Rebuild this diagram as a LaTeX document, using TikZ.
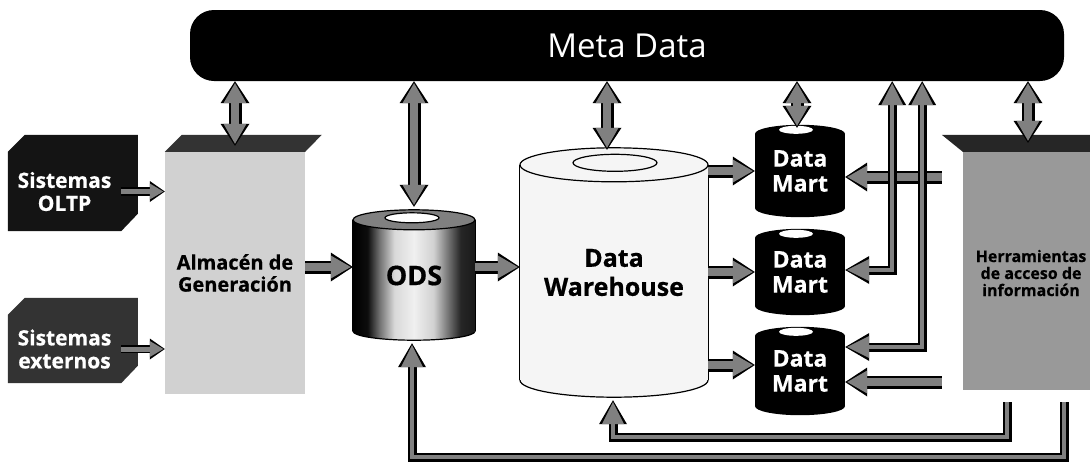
\documentclass[tikz,border=0pt]{standalone}
\usepackage{fontspec}
\setmainfont{Open Sans}[BoldFeatures={FakeBold=0.6}]
\usetikzlibrary{arrows.meta,calc,backgrounds}

% side-to-side shading of the ODS drum
\pgfdeclarehorizontalshading{odsbody}{100bp}{color(0bp)=(black); color(25bp)=(black); color(31bp)=(black!95); color(36bp)=(black!55); color(42bp)=(black!15); color(50bp)=(black!6); color(58bp)=(black!18); color(64bp)=(black!55); color(69bp)=(black!85); color(75bp)=(black!90); color(100bp)=(black!90)}

\tikzset{
  headKB/.tip={Triangle[length=22pt,width=29pt,line width=0pt 0 0]},
  headGB/.tip={Triangle[length=20pt,width=23pt,line width=0pt 0 0]},
  headKS/.tip={Triangle[length=15pt,width=21pt,line width=0pt 0 0]},
  headGS/.tip={Triangle[length=13.5pt,width=16pt,line width=0pt 0 0]},
  headKL/.tip={Triangle[length=24pt,width=28pt,line width=0pt 0 0]},
  headGL/.tip={Triangle[length=22pt,width=22pt,line width=0pt 0 0]},
  flowbig/.style={draw=black!50, line width=8.5pt, arrows={-headGB}, shorten >=2pt,
    preaction={draw=black, line width=13pt, arrows={-headKB}, shorten >=0pt}},
  flowdbl/.style={draw=black!50, line width=8.5pt, arrows={headGB-headGB}, shorten >=2pt, shorten <=2pt,
    preaction={draw=black, line width=13pt, arrows={headKB-headKB}, shorten >=0pt, shorten <=0pt}},
  flowsml/.style={draw=black!50, line width=5pt, arrows={-headGS}, shorten >=1.5pt,
    preaction={draw=black, line width=8.5pt, arrows={-headKS}, shorten >=0pt}},
  feedup/.style={draw=black!50, line width=4pt, arrows={-headGL}, shorten >=2pt,
    preaction={draw=black, line width=9pt, arrows={-headKL}, shorten >=0pt}},
  feeddbl/.style={draw=black!50, line width=4pt, arrows={headGL-headGL}, shorten >=2pt, shorten <=2pt,
    preaction={draw=black, line width=9pt, arrows={headKL-headKL}, shorten >=0pt, shorten <=0pt}},
  face/.style={inner sep=0pt, align=center},
  srcbox/.style={face, text=white, minimum width=113pt, font=\bfseries\fontsize{21}{23}\selectfont},
  drum/.style={face, font=\bfseries\fontsize{23}{25}\selectfont},
}

\begin{document}
\begin{tikzpicture}[x=1pt,y=-1pt]
\useasboundingbox (0,0) rectangle (1090,464);

% metadata bar
\node[fill=black, rounded corners=24pt, minimum width=874pt, minimum height=71pt, inner sep=0pt,
      text=white, font=\fontsize{33}{33}\selectfont] (meta) at (627,45.5) {Meta Data};

% source systems
\node[srcbox, fill=black!92, minimum height=79pt] (oltp) at (64.5,191.5) {Sistemas\\OLTP};
\node[srcbox, fill=black!80, minimum height=68pt] (ext) at (64.5,349) {Sistemas\\externos};

% staging and access-tool blocks
\node[face, fill=black!18, minimum width=140pt, minimum height=242pt,
      font=\bfseries\fontsize{20}{22}\selectfont] (alm) at (235,273) {Almacén de\\Generación};
\node[face, fill=black!40, minimum width=140pt, minimum height=238pt] (herr) at (1033,271) {};
\node[face, font=\bfseries\fontsize{16}{17}\selectfont] (herrtxt) at ($(herr.center)+(-2,2)$) {Herramientas\\de acceso de\\información};

% stores
\node[drum, minimum width=122pt, minimum height=111pt, font=\bfseries\fontsize{27}{27}\selectfont] (ods) at (414,275.5) {ODS};
\node[drum, minimum width=188pt, minimum height=215pt, font=\bfseries\fontsize{25}{29}\selectfont] (dw) at (614,272.5) {Data\\Warehouse};
\node[drum, text=white, minimum width=90pt, minimum height=74pt] (dm1) at (800,171) {Data\\Mart};
\node[drum, text=white, minimum width=90pt, minimum height=68pt] (dm2) at (800,272) {Data\\Mart};
\node[drum, text=white, minimum width=90pt, minimum height=70pt] (dm3) at (800,371) {Data\\Mart};

\begin{pgfonlayer}{background}
  % box depth faces
  \fill[black!92] (oltp.north west) -- ++(17,-17) -- ++(113,0) -- ++(0,79) -- (oltp.south east) -- (oltp.south west) -- cycle;
  \fill[black!80] (ext.north west) -- ++(17,-17) -- ++(113,0) -- ++(0,68) -- (ext.south east) -- (ext.south west) -- cycle;
  \fill[black!80] (alm.north west) -- ++(17,-17) -- ++(140,0) -- (alm.north east) -- cycle;
  \fill[black!85] (herr.north west) -- ++(-21,-17) -- ++(161,0) -- (herr.north east) -- cycle;
  % ODS drum
  \shade[shading=odsbody] (ods.south) ellipse[x radius=61, y radius=9];
  \draw[line width=1.2pt] (ods.south) ellipse[x radius=61, y radius=9];
  \shade[shading=odsbody] (ods.north west) rectangle (ods.south east);
  \draw[line width=1.2pt] (ods.north west) -- (ods.south west) (ods.north east) -- (ods.south east);
  \filldraw[fill=black!50, line width=1.2pt] (ods.north) ellipse[x radius=61, y radius=10];
  \filldraw[fill=white, line width=1.2pt] ($(ods.north)+(-2,-2)$) ellipse[x radius=27, y radius=5];
  % warehouse drum
  \filldraw[fill=black!4, line width=1.2pt] (dw.south) ellipse[x radius=94, y radius=17];
  \fill[black!4] (dw.north west) rectangle (dw.south east);
  \draw[line width=1.2pt] (dw.north west) -- (dw.south west) (dw.north east) -- (dw.south east);
  \filldraw[fill=black!4, line width=1.2pt] (dw.north) ellipse[x radius=94, y radius=17];
  \draw[line width=1.2pt] ($(dw.north)+(1,-2)$) ellipse[x radius=42, y radius=8.5];
  % data mart drums
  \foreach \m in {dm1,dm2,dm3} {
    \fill[black] (\m.south) ellipse[x radius=45, y radius=9];
    \fill[black] (\m.north west) rectangle (\m.south east);
    \fill[black] (\m.north) ellipse[x radius=45, y radius=9];
    \fill[white] ($(\m.north)+(-4,-4)$) ellipse[x radius=17, y radius=4];
  }
\end{pgfonlayer}

% loading flow
\draw[flowsml] (oltp.east) -- (oltp.east -| alm.west);
\draw[flowsml] (ext.east) -- (ext.east -| alm.west);
\coordinate (a1) at ($(alm.east)+(0,-6)$);
\draw[flowbig] (a1) -- (a1 -| ods.west);
\coordinate (a2) at ($(ods.east)+(0,-8.5)$);
\draw[flowbig] (a2) -- (a2 -| dw.west);
\draw[flowbig] (dw.east |- dm1.west) -- (dm1.west);
\draw[flowbig] (dw.east |- dm2.west) -- (dm2.west);
\coordinate (a3) at ($(dm3.west)+(0,-6)$);
\draw[flowbig] (a3 -| dw.east) -- (a3);

% access tools feeding the marts
\coordinate (h1) at ($(herr.west)+(-21,-94)$);
\draw[flowbig] (h1) -- (h1 -| dm1.east);
\coordinate (h2) at ($(herr.west)+(-21,111)$);
\draw[flowbig] (h2) -- (h2 -| dm3.east);

% metadata links to the marts
\coordinate (v1) at ($(dm2.east)+(47,-2)$);
\draw[feeddbl] (meta.south -| v1) -- (v1) -- (v1 -| dm2.east);
\coordinate (v2) at ($(dm3.east)+(77,-24)$);
\draw[feeddbl] (meta.south -| v2) -- (v2) -- (v2 -| dm3.east);

% metadata exchange
\draw[flowdbl] (meta.south -| alm.north) -- ($(alm.north)+(0,-6)$);
\draw[flowdbl] (meta.south -| ods.north) -- ($(ods.north)+(0,-13)$);
\coordinate (d1) at ($(dw.north)+(-7,-15)$);
\draw[flowdbl] (meta.south -| d1) -- (d1);
\coordinate (d2) at ($(dm1.north)+(-3,-6)$);
\draw[flowdbl] (meta.south -| d2) -- (d2);
\coordinate (d3) at ($(herr.north)+(-5,-9)$);
\draw[flowdbl] (meta.south -| d3) -- (d3);

% feedback from the access tools
\coordinate (b1) at ($(herr.south)+(-26,12)$);
\draw[feedup] (b1) -- ++(0,35) -| ($(dw.south)+(-1,20)$);
\coordinate (b2) at ($(herr.south)+(31,12)$);
\draw[feedup] (b2) -- ++(0,55) -| ($(ods.south)+(-2,12)$);
\end{tikzpicture}
\end{document}
